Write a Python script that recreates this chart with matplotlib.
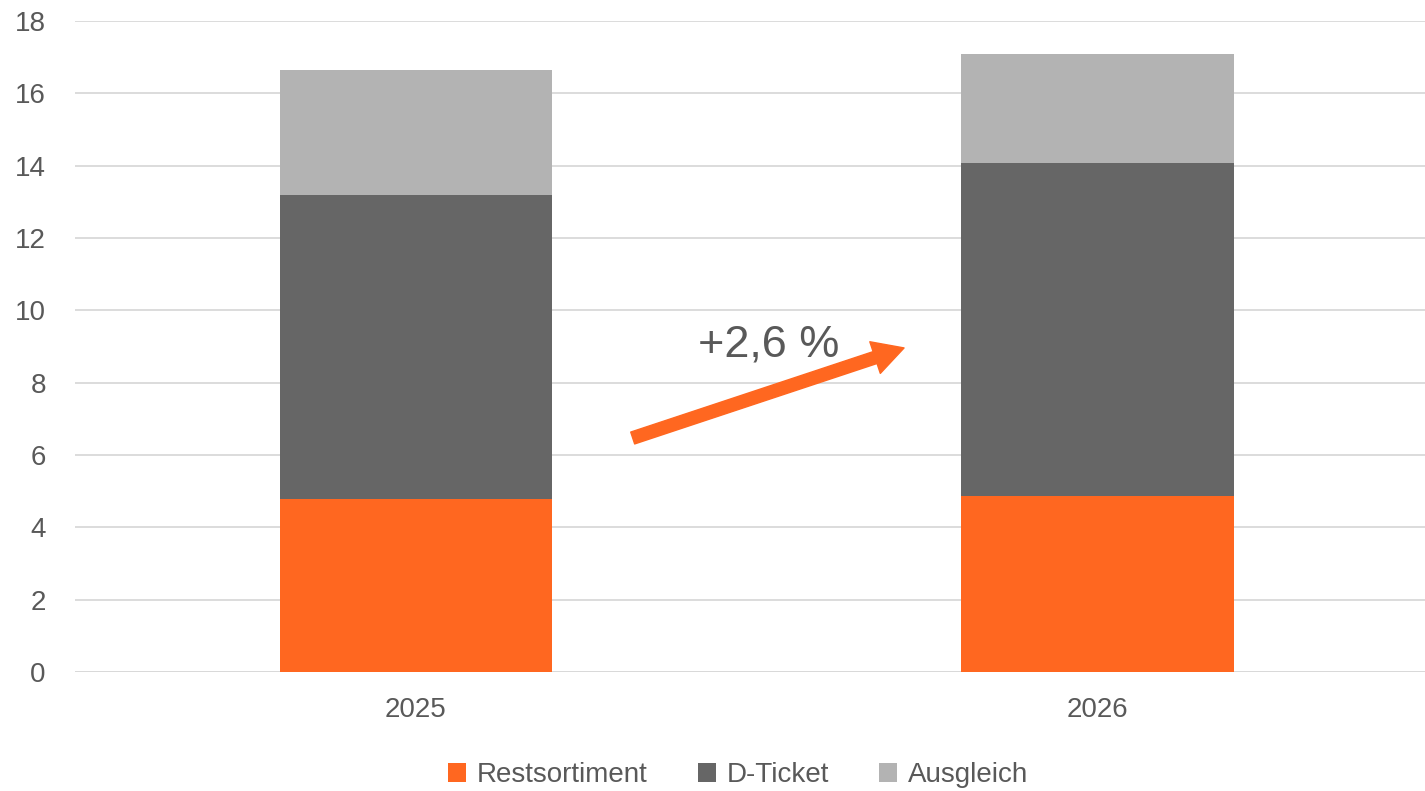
import matplotlib.pyplot as plt
import numpy as np

years = ["2025", "2026"]
restsortiment = [4.78, 4.88]
d_ticket = [8.41, 9.19]
ausgleich = [3.45, 3.02]

series_names = ["Restsortiment", "D-Ticket", "Ausgleich"]
colors = ["#FF6720", "#666666", "#B3B3B3"]
text_color = "#595959"

plt.rcParams['font.family'] = ['Liberation Sans', 'DejaVu Sans']

fig = plt.figure(figsize=(14.25, 7.91), dpi=100)
ax = fig.add_axes([0.0526, 0.1504, 0.9474, 0.8231])

x = np.arange(len(years))
bottom = np.zeros(len(years))
for name, vals, c in zip(series_names, [restsortiment, d_ticket, ausgleich], colors):
    ax.bar(x, vals, width=0.4, bottom=bottom, color=c, label=name, zorder=3)
    bottom += np.array(vals)

ax.set_ylim(0, 18)
ax.set_yticks(range(0, 19, 2))
ax.set_xlim(-0.5, 1.48)
ax.set_xticks(x)
ax.set_xticklabels(years)
ax.grid(axis='y', color='#D9D9D9', linewidth=1.3, zorder=0)
for s in ax.spines.values():
    s.set_visible(False)
ax.axhline(0, color='#D9D9D9', linewidth=1.3, zorder=1)
ax.tick_params(axis='both', length=0, labelsize=20, colors=text_color)
ax.tick_params(axis='x', pad=18)
ax.tick_params(axis='y', pad=21)

# growth arrow
ax.annotate("", xy=(0.716, 8.96), xytext=(0.318, 6.47),
            arrowprops=dict(arrowstyle="simple,head_length=1.1,head_width=1.2,tail_width=0.45",
                            color="#FF6720", mutation_scale=20, shrinkA=0, shrinkB=0), zorder=4)
ax.text(0.518, 9.04, "+2,6 %", fontsize=32.5, color=text_color, ha='center', va='center', zorder=5)

fig.legend(loc='center', bbox_to_anchor=(0.518, 0.02), ncol=3, frameon=False,
           fontsize=20, labelcolor=text_color, handlelength=0.65, handleheight=0.65,
           columnspacing=1.8, handletextpad=0.4)

fig.savefig("out.png", dpi=100)
